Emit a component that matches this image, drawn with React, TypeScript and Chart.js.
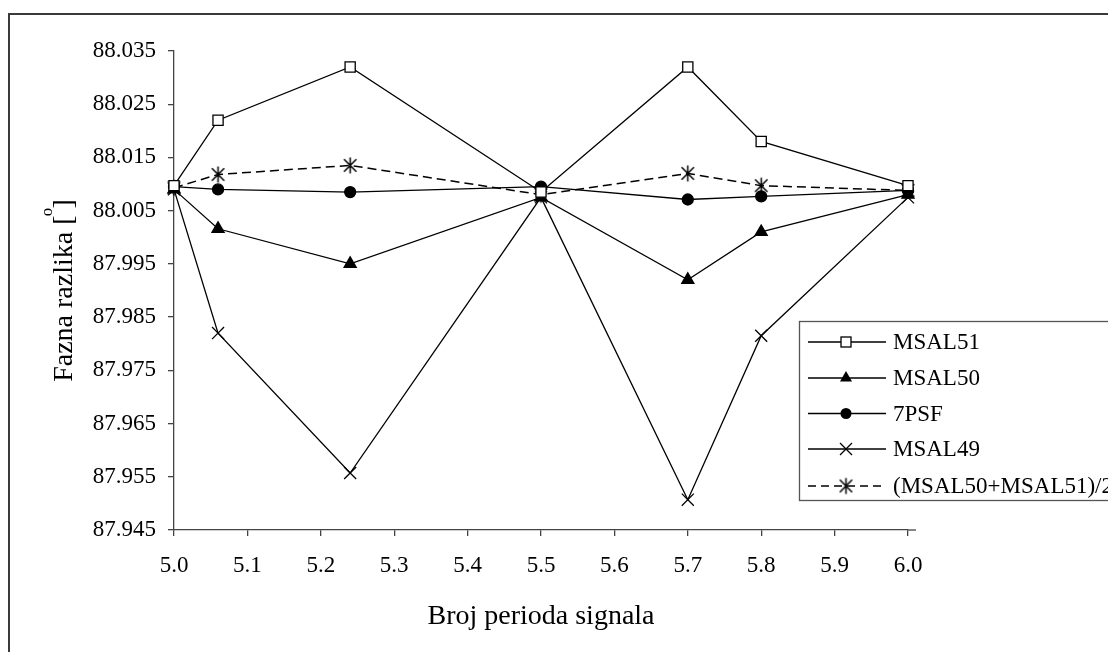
import React, { useEffect, useRef } from 'react';
import { Chart, registerables } from 'chart.js';

Chart.register(...registerables);

// ---- data ----
const xValues = [5.0, 5.06, 5.24, 5.5, 5.7, 5.8, 6.0];
const msal51 = [88.0097, 88.022, 88.032, 88.0085, 88.032, 88.018, 88.0097];
const msal50 = [88.009, 88.0016, 87.995, 88.0075, 87.992, 88.001, 88.008];
const psf7 = [88.0095, 88.009, 88.0085, 88.0095, 88.0071, 88.0077, 88.0088];
const msal49 = [88.009, 87.982, 87.9557, 88.0075, 87.9507, 87.9815, 88.0075];
const avg5051 = [88.0093, 88.0118, 88.0135, 88.008, 88.012, 88.0097, 88.0088];
const seriesNames = ['MSAL51', 'MSAL50', '7PSF', 'MSAL49', '(MSAL50+MSAL51)/2'];

const xMin = 5.0;
const xMax = 6.0;
const xStep = 0.1;
const yMin = 87.945;
const yMax = 88.035;
const yStep = 0.01;

const xTitle = 'Broj perioda signala';
const yTitle = 'Fazna razlika [ ]';
const yTitleSup = 'o';

const FONT = "'Liberation Serif', 'Times New Roman', serif";
const AXIS_COLOR = '#444';

function makeAsterisk(): HTMLCanvasElement {
  const size = 19;
  const c = document.createElement('canvas');
  c.width = size;
  c.height = size;
  const g = c.getContext('2d')!;
  g.strokeStyle = '#000';
  g.lineWidth = 1.5;
  const m = size / 2;
  const r = 8;
  const d = 6.2;
  g.beginPath();
  g.moveTo(m, m - r);
  g.lineTo(m, m + r);
  g.moveTo(m - d, m - d);
  g.lineTo(m + d, m + d);
  g.moveTo(m + d, m - d);
  g.lineTo(m - d, m + d);
  g.stroke();
  return c;
}

function drawMarker(ctx: CanvasRenderingContext2D, kind: number, x: number, y: number, star: HTMLCanvasElement) {
  ctx.save();
  ctx.strokeStyle = '#000';
  ctx.fillStyle = '#000';
  ctx.lineWidth = 1.3;
  ctx.setLineDash([]);
  if (kind === 0) {
    ctx.fillStyle = '#fff';
    ctx.fillRect(x - 5, y - 5, 10, 10);
    ctx.strokeRect(x - 5, y - 5, 10, 10);
  } else if (kind === 1) {
    const r = 7;
    ctx.beginPath();
    ctx.moveTo(x, y - r);
    ctx.lineTo(x + r * Math.sin((2 * Math.PI) / 3), y - r * Math.cos((2 * Math.PI) / 3));
    ctx.lineTo(x + r * Math.sin((4 * Math.PI) / 3), y - r * Math.cos((4 * Math.PI) / 3));
    ctx.closePath();
    ctx.fill();
  } else if (kind === 2) {
    ctx.beginPath();
    ctx.arc(x, y, 5.5, 0, Math.PI * 2);
    ctx.fill();
  } else if (kind === 3) {
    const d = 6;
    ctx.beginPath();
    ctx.moveTo(x - d, y - d);
    ctx.lineTo(x + d, y + d);
    ctx.moveTo(x + d, y - d);
    ctx.lineTo(x - d, y + d);
    ctx.stroke();
  } else {
    ctx.drawImage(star, x - star.width / 2, y - star.height / 2);
  }
  ctx.restore();
}

export default function App() {
  const ref = useRef<HTMLCanvasElement>(null);

  useEffect(() => {
    document.body.style.margin = '0';
    document.body.style.overflow = 'hidden';
    const canvas = ref.current!;
    const star = makeAsterisk();

    const pts = (vals: number[]) => xValues.map((x, i) => ({ x, y: vals[i] }));
    const base = {
      borderColor: '#000',
      borderWidth: 1.3,
      pointBorderColor: '#000',
      pointBorderWidth: 1.3,
      pointHoverRadius: 0,
      tension: 0,
      clip: false as const,
      fill: false,
    };

    const datasets: any[] = [
      { ...base, label: seriesNames[0], data: pts(msal51), pointStyle: 'rect', pointRadius: 7.2, pointBackgroundColor: '#fff' },
      { ...base, label: seriesNames[1], data: pts(msal50), pointStyle: 'triangle', pointRadius: 7, pointBackgroundColor: '#000' },
      { ...base, label: seriesNames[2], data: pts(psf7), pointStyle: 'circle', pointRadius: 5.5, pointBackgroundColor: '#000' },
      { ...base, label: seriesNames[3], data: pts(msal49), pointStyle: 'crossRot', pointRadius: 8.5, pointBackgroundColor: '#000' },
      { ...base, label: seriesNames[4], data: pts(avg5051), pointStyle: star, pointRadius: 9, borderDash: [9, 5], borderWidth: 1.5 },
    ];

    const decor = {
      id: 'decor',
      afterDraw(chart: any) {
        const ctx: CanvasRenderingContext2D = chart.ctx;
        const area = chart.chartArea;
        ctx.save();
        // outer frame
        ctx.strokeStyle = '#3a3a3a';
        ctx.lineWidth = 2;
        ctx.beginPath();
        ctx.moveTo(9, 660);
        ctx.lineTo(9, 14);
        ctx.lineTo(1120, 14);
        ctx.stroke();

        // x-axis extension beyond last tick
        ctx.strokeStyle = AXIS_COLOR;
        ctx.lineWidth = 1.3;
        ctx.beginPath();
        ctx.moveTo(area.right, area.bottom);
        ctx.lineTo(area.right + 8, area.bottom);
        ctx.stroke();

        // axis titles
        ctx.fillStyle = '#000';
        ctx.font = `28px ${FONT}`;
        ctx.textAlign = 'center';
        ctx.textBaseline = 'alphabetic';
        ctx.fillText(xTitle, (area.left + area.right) / 2, 624);

        ctx.save();
        const cy = (area.top + area.bottom) / 2;
        ctx.translate(72, cy);
        ctx.rotate(-Math.PI / 2);
        ctx.font = `28px ${FONT}`;
        ctx.textAlign = 'center';
        ctx.textBaseline = 'alphabetic';
        ctx.fillText(yTitle, 0, 0);
        const full = ctx.measureText(yTitle).width;
        const pre = ctx.measureText('Fazna razlika [').width;
        const sp = ctx.measureText(' ').width;
        ctx.font = `17px ${FONT}`;
        ctx.textAlign = 'center';
        ctx.fillText(yTitleSup, -full / 2 + pre + sp / 2, -20);
        ctx.restore();

        // legend
        const lx = 799;
        const ly = 321;
        const lb = 500;
        ctx.fillStyle = '#fff';
        ctx.fillRect(lx, ly, 1108 - lx + 5, lb - ly);
        ctx.strokeStyle = '#555';
        ctx.lineWidth = 1.3;
        ctx.strokeRect(lx + 0.5, ly + 0.5, 1108 - lx + 10, lb - ly);
        const rowY = [342, 378, 413.5, 449, 486];
        seriesNames.forEach((name, i) => {
          const y = rowY[i];
          ctx.strokeStyle = '#000';
          ctx.lineWidth = 1.3;
          ctx.setLineDash(i === 4 ? [8, 5] : []);
          ctx.beginPath();
          ctx.moveTo(808, y);
          ctx.lineTo(886, y);
          ctx.stroke();
          ctx.setLineDash([]);
          drawMarker(ctx, i, 846, y, star);
          ctx.fillStyle = '#000';
          ctx.font = `23px ${FONT}`;
          ctx.textAlign = 'left';
          ctx.textBaseline = 'middle';
          ctx.fillText(name, 893, y + 1);
        });
        ctx.restore();
      },
    };

    const chart = new Chart(canvas, {
      type: 'line',
      data: { datasets },
      plugins: [decor],
      options: {
        animation: false,
        responsive: false,
        devicePixelRatio: 1,
        events: [],
        layout: { padding: { left: 0, top: 51, right: 200, bottom: 0 } },
        plugins: {
          legend: { display: false },
          tooltip: { enabled: false },
          title: { display: false },
        },
        scales: {
          x: {
            type: 'linear',
            min: xMin,
            max: xMax,
            afterFit: (s: any) => {
              s.height = 652 - 530;
            },
            ticks: {
              stepSize: xStep,
              color: '#000',
              padding: 16,
              maxRotation: 0,
              autoSkip: false,
              font: { family: FONT, size: 23 },
              callback: (v: any) => Number(v).toFixed(1),
            },
            grid: { display: true, drawOnChartArea: false, drawTicks: true, tickLength: 6, color: AXIS_COLOR, lineWidth: 1.3 },
            border: { display: true, color: AXIS_COLOR, width: 1.3 },
          },
          y: {
            type: 'linear',
            min: yMin,
            max: yMax,
            afterFit: (s: any) => {
              s.width = 174;
            },
            ticks: {
              stepSize: yStep,
              color: '#000',
              padding: 12,
              autoSkip: false,
              font: { family: FONT, size: 23 },
              callback: (v: any) => Number(v).toFixed(3),
            },
            grid: { display: true, drawOnChartArea: false, drawTicks: true, tickLength: 6, color: AXIS_COLOR, lineWidth: 1.3 },
            border: { display: true, color: AXIS_COLOR, width: 1.3 },
          },
        },
      },
    });

    return () => chart.destroy();
  }, []);

  return <canvas ref={ref} width={1108} height={652} style={{ display: 'block', width: 1108, height: 652 }} />;
}
